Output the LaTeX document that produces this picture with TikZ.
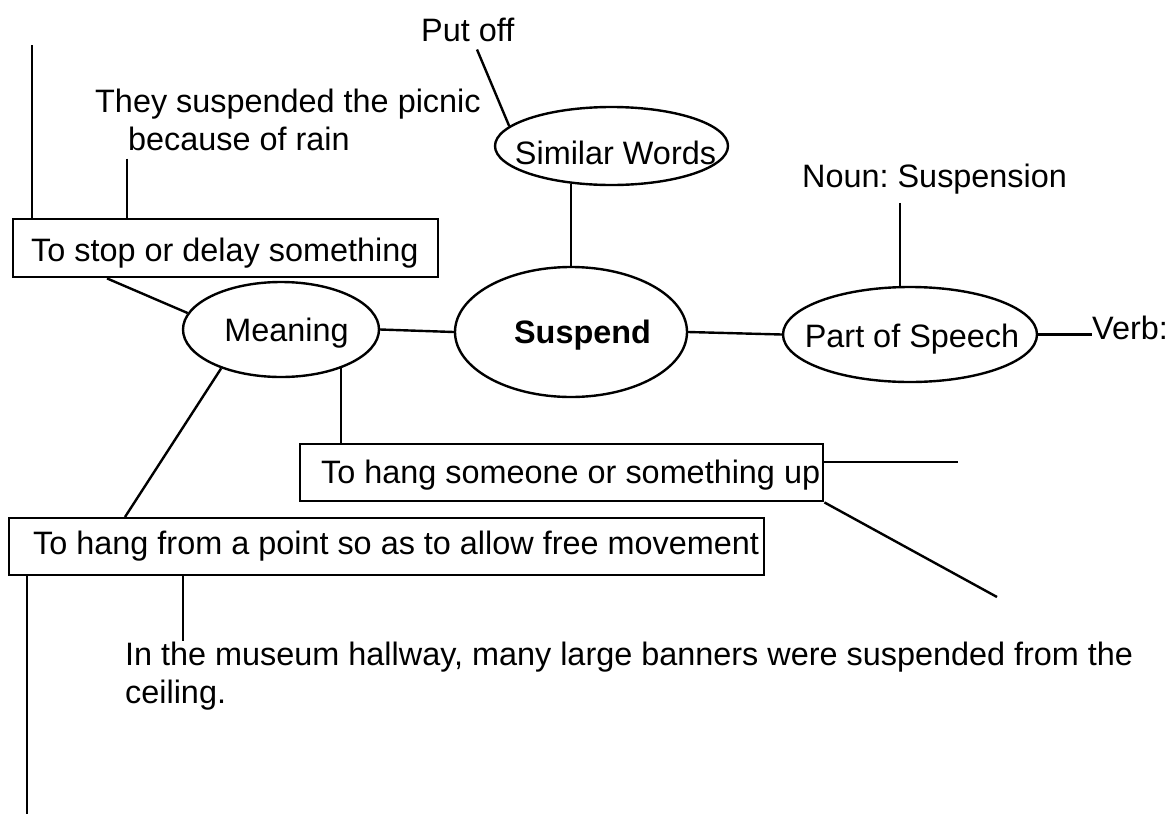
\documentclass[tikz,border=0pt]{standalone}
\usepackage{fontspec}
\setmainfont{Liberation Sans}
\usetikzlibrary{shapes.geometric}
\newcommand\diagfont{\fontsize{32.4}{38}\selectfont}
% fixed-width box content: left padding, then the text
\newcommand\padtext[3]{\makebox[#1][l]{\hspace*{#2}#3}}
\frenchspacing

\begin{document}
\begin{tikzpicture}[x=1pt,y=-1pt,
  every node/.style={font=\diagfont},
  every label/.style={font=\diagfont, inner sep=0pt},
  conn/.style={line width=2.4pt},
  plain/.style={inner sep=0pt},
  oval/.style={draw, line width=2.4pt, ellipse, inner sep=0pt},
  defbox/.style={draw, line width=2.4pt, rectangle, inner sep=0pt,
                 text depth=0pt, anchor=north west}]
\useasboundingbox (0,0) rectangle (1174,814);

% free text (multi-line nodes are placed by the baseline of their last line)
\node[plain, inner ysep=8pt, anchor=base west] (putoff) at (421,41) {Put off};
\node[plain, inner ysep=8pt, anchor=base west, align=left] (rain) at (95,150)
  {They suspended the picnic\\\hspace*{33pt}because of rain};
\node[plain, inner ysep=9pt, anchor=base west] (noun) at (802,187) {Noun: Suspension};
\node[plain, anchor=base west] (verb) at (1092,339) {Verb:};
\node[plain, anchor=base west, align=left] (museum) at (125,703)
  {In the museum hallway, many large banners were suspended from the\\ceiling.};

% ovals
\node[oval, minimum width=233pt, minimum height=78pt,
  label={[name=similartxt, anchor=base, xshift=4pt, yshift=-7pt]center:Similar Words}]
  (similar) at (611.5,146) {};
\node[oval, minimum width=196pt, minimum height=95pt,
  label={[name=meaningtxt, anchor=base, xshift=5.5pt, yshift=-3.5pt]center:Meaning}]
  (meaning) at (281,329.5) {};
\node[oval, minimum width=232pt, minimum height=130pt,
  label={[name=suspendtxt, anchor=base, xshift=11.5pt, yshift=-3pt, font=\diagfont\bfseries]center:Suspend}]
  (suspend) at (571,332) {};
\node[oval, minimum width=254pt, minimum height=95pt,
  label={[name=postxt, anchor=base, xshift=2pt, yshift=-4.5pt]center:Part of Speech}]
  (pos) at (910,334.5) {};

% definition boxes
\node[defbox, minimum height=58pt, text height=26pt] (stopbox) at (12,218)
  {\padtext{425pt}{18pt}{To stop or delay something}};
\node[defbox, minimum height=57pt, text height=21pt] (hangup) at (299,443)
  {\padtext{523pt}{21pt}{To hang someone or something up}};
\node[defbox, minimum height=57pt, text height=15pt] (hangfree) at (8,517)
  {\padtext{755pt}{24pt}{To hang from a point so as to allow free movement}};

% drop positions and free line ends
\coordinate (x127) at (127,0);
\coordinate (x107) at (107,0);
\coordinate (x477) at (477,0);
\coordinate (x900) at (900,0);
\coordinate (x125) at (125,0);
\coordinate (x183) at (183,0);
\coordinate (x27) at (27,0);
\coordinate (tltop) at (32,45);
\coordinate (upend) at (958,462);
\coordinate (downend) at (997,597);
\coordinate (bottomend) at (27,814);

% connectors
\draw[conn] (tltop) -- (tltop |- stopbox.north);
\draw[conn] (rain.south -| x127) -- (stopbox.north -| x127);
\draw[conn] (stopbox.south -| x107) -- (meaning.170);
\draw[conn] (putoff.south -| x477) -- (similar.169);
\draw[conn] (similar.223) -- (similar.223 |- suspend.north);
\draw[conn] (meaning.east) -- (suspend.west);
\draw[conn] (suspend.east) -- (pos.west);
\draw[conn] (pos.east) -- (pos.east -| verb.west);
\draw[conn] (noun.south -| x900) -- (pos.north -| x900);
\draw[conn] (meaning.213) -- (hangfree.north -| x125);
\draw[conn] (meaning.-33) -- (meaning.-33 |- hangup.north);
\draw[conn] (upend -| hangup.east) -- (upend);
\draw[conn] (hangup.south east) -- (downend);
\draw[conn] (hangfree.south -| x183) -- (museum.north -| x183);
\draw[conn] (hangfree.south -| x27) -- (bottomend);
\end{tikzpicture}
\end{document}
